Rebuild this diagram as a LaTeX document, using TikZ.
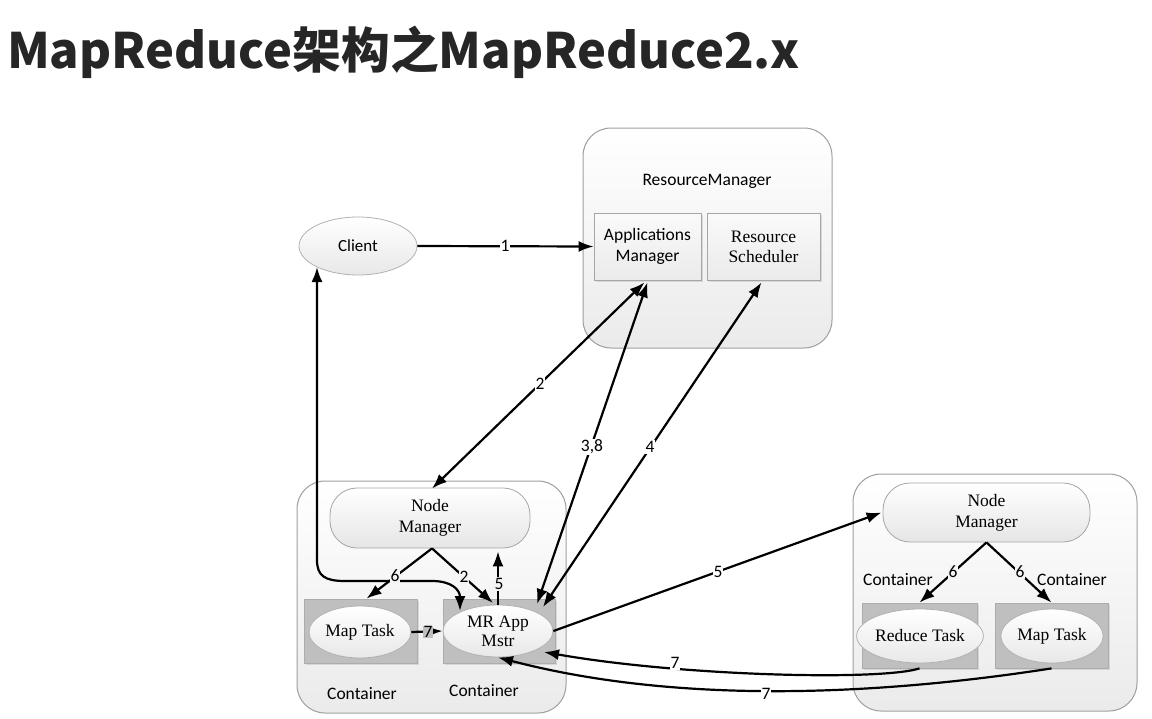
\documentclass[tikz,border=0pt]{standalone}
\usepackage{fontspec}
\setmainfont{Liberation Serif}
\setsansfont{Carlito}
\newfontfamily\titlefont{Noto Sans CJK SC}
\usetikzlibrary{arrows.meta,shapes.geometric,calc,shadows}
\begin{document}
\begin{tikzpicture}[x=1pt,y=-1pt,
  bigbox/.style={draw=gray!75, line width=1pt, rounded corners=28pt, top color=white, bottom color=gray!16},
  innerbox/.style={draw=gray!70, line width=0.8pt, top color=gray!4, bottom color=gray!16, font=\fontsize{17.5}{20}\selectfont, align=center, drop shadow={shadow xshift=2pt, shadow yshift=-2pt, fill=gray!50, opacity=.5}},
  pill/.style={draw=gray!70, line width=0.8pt, rounded corners=27pt, top color=white, bottom color=gray!20, font=\fontsize{17.5}{21}\selectfont, align=center},
  cont/.style={draw=gray!65, line width=0.8pt, fill=gray!50, drop shadow={shadow xshift=2pt, shadow yshift=-2pt, fill=gray!50, opacity=.5}},
  ell/.style={ellipse, draw=gray!60, line width=0.8pt, top color=white, bottom color=gray!18, font=\fontsize{17.5}{19}\selectfont, align=center, inner sep=0pt},
  conn/.style={line width=2.2pt, -{Latex[length=15pt,width=11pt]}},
  bconn/.style={line width=2.2pt, {Latex[length=15pt,width=11pt]}-{Latex[length=15pt,width=11pt]}},
  lbl/.style={fill=white, inner sep=1pt, font=\sffamily\fontsize{17.5}{17.5}\selectfont},
  slbl/.style={inner sep=1pt, font=\sffamily\fontsize{17.5}{17.5}\selectfont}
]
\useasboundingbox[fill=white] (0,0) rectangle (1152,718);
% title
\node[anchor=west, inner sep=0pt, text=black!85, font=\titlefont\bfseries\fontsize{48.8}{54}\selectfont] (title) at (7,52) {MapReduce架构之MapReduce2.x};

% ResourceManager
\node[bigbox, minimum width=249pt, minimum height=220pt] (rm) at (707.5,238) {};
\node[slbl] (rmlbl) at (707,181) {ResourceManager};
\node[innerbox, minimum width=107pt, minimum height=67pt, font=\sffamily\fontsize{17.5}{21}\selectfont] (am) at (647.5,246.5) {Applications\\Manager};
\node[innerbox, minimum width=113pt, minimum height=67pt] (rs) at (763.5,246.5) {Resource\\Scheduler};

% Client
\node[ell, minimum width=118pt, minimum height=58pt, font=\sffamily\fontsize{17}{19}\selectfont] (client) at (358,246) {Client};

% left node
\node[bigbox, minimum width=269pt, minimum height=232pt] (ln) at (431.5,597) {};
\node[pill, minimum width=200pt, minimum height=60pt] (lnm) at (430,518) {Node\\Manager};
\node[cont, minimum width=113pt, minimum height=64pt] (lmc) at (360.5,631) {};
\node[cont, minimum width=112pt, minimum height=64pt] (mrc) at (499,631) {};
\node[ell, minimum width=102pt, minimum height=52pt] (lmap) at (360,632) {Map Task};
\node[ell, minimum width=110pt, minimum height=52pt] (mr) at (498,631) {MR App\\Mstr};
\node[slbl] (lc1) at (362,694) {Container};
\node[slbl] (lc2) at (484,691) {Container};

% right node
\node[bigbox, minimum width=284pt, minimum height=237pt] (rn) at (995,592.5) {};
\node[pill, minimum width=207pt, minimum height=59pt] (rnm) at (986.5,512.5) {Node\\Manager};
\node[cont, minimum width=115pt, minimum height=65pt] (rdc) at (919.5,635.5) {};
\node[cont, minimum width=113pt, minimum height=65pt] (rmc) at (1051.5,635.5) {};
\node[ell, minimum width=108pt, minimum height=54pt] (red) at (920,636) {Reduce Task};
\node[ell, minimum width=102pt, minimum height=54pt] (rmap) at (1052,636) {Map Task};
\node[slbl] (rc1) at (898,580) {Container};
\node[slbl] (rc2) at (1072,580) {Container};

% connectors
\draw[conn] (client.east) -- (am.west);
\node[lbl] at (505,246) {1};

\draw[bconn] ($(am.south)+(-3,2)$) -- ($(lnm.north)+(2,1)$);
\draw[bconn] ($(am.south)+(0,2)$) -- ($(mr)+(39,-27)$);
\draw[bconn] ($(rs.south)+(-2,2)$) -- ($(mr)+(45,-24)$);
\node[lbl] at (540,384) {2};
\node[lbl] at (592,447) {3,8};
\node[lbl] at (650,447) {4};

% client <-> MR App
\draw[bconn] ($(client)+(-41,21)$) -- (317,560) .. controls (317,576) and (325,581) .. (345,581) -- (432,581) .. controls (452,581) and (460,590) .. ($(mr)+(-38,-20)$);

\draw[conn] ($(lnm.south)+(2,0)$) -- ($(lmc.north)+(6,0)$);
\draw[conn] ($(lnm.south)+(2,0)$) -- ($(mr)+(-5,-28)$);
\draw[conn] ($(mr)+(0,-26)$) -- ($(lnm.south)+(68,3)$);
\node[lbl, fill=gray!9] at (395,576) {6};
\node[lbl, fill=gray!9] at (464,577) {2};
\node[lbl, fill=gray!9] at (499,584) {5};

\draw[conn] (lmap.east) -- (mr.west);
\node[lbl, fill=gray!50, inner sep=0.5pt] at (428,632) {7};

\draw[conn] (mr.east) -- ($(rnm.west)+(-1,0)$);
\node[lbl] at (718,572) {5};

\draw[conn] (rdc.south) .. controls (880,681) and (680,676) .. ($(mr)+(46,21)$);
\draw[conn] (rmc.south) .. controls (880,695) and (680,705) .. (mr.south);
\node[lbl] at (675,663) {7};
\node[lbl] at (766,694) {7};

\draw[conn] (rnm.south) -- (rdc.north);
\draw[conn] (rnm.south) -- (rmc.north);
\node[lbl, fill=gray!9] at (953,572) {6};
\node[lbl, fill=gray!9] at (1020,572) {6};
\end{tikzpicture}
\end{document}
